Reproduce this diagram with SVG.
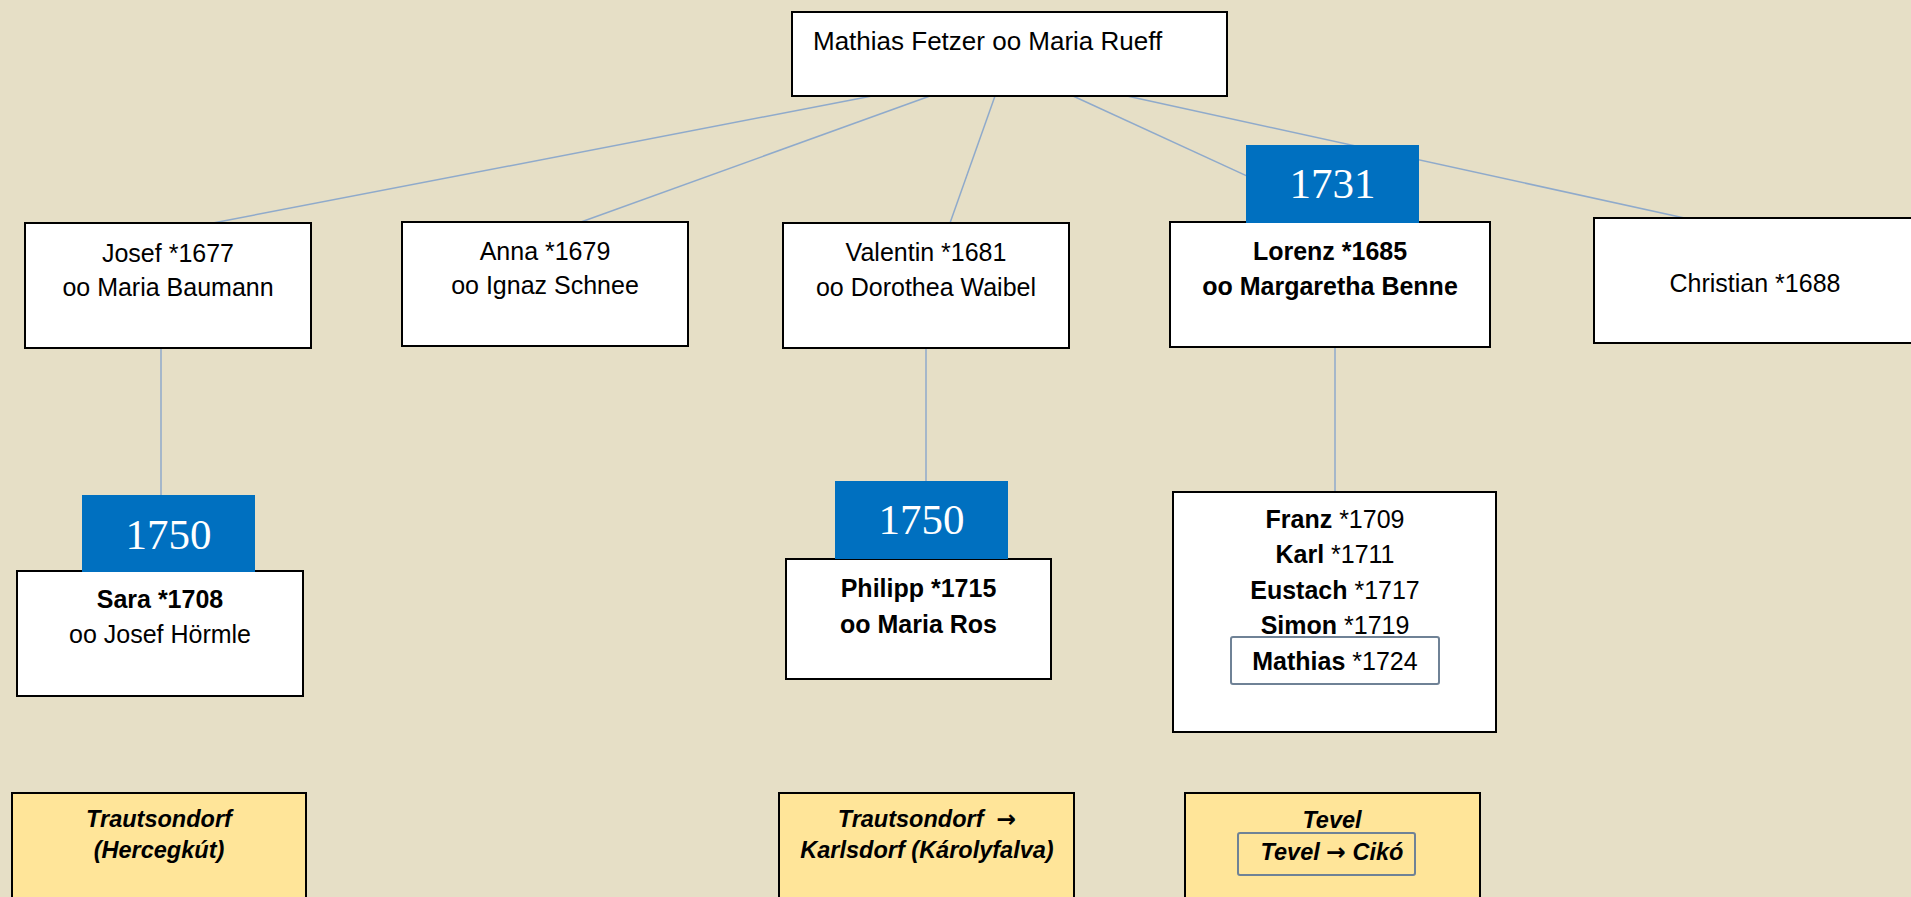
<svg xmlns="http://www.w3.org/2000/svg" width="1911" height="897" viewBox="0 0 1911 897">
<style>
.box{fill:#fff;stroke:#000;stroke-width:2}
.loc{fill:#FFE599;stroke:#000;stroke-width:2}
.yr{fill:#0070C0}
.yrt{font-family:"Liberation Serif",serif;font-size:43px;fill:#fff;text-anchor:middle}
.t{font-family:"Liberation Sans",Arial,sans-serif;font-size:25px;fill:#000;text-anchor:middle}
.b{font-weight:bold}
.it{font-family:"Liberation Sans",Arial,sans-serif;font-size:23.5px;font-weight:bold;font-style:italic;fill:#000;text-anchor:middle}
.arr{font-family:"DejaVu Sans",sans-serif;font-style:normal;font-weight:bold}
.inner{fill:none;stroke:#6F8296;stroke-width:2}
.con{stroke:#8FAACB;stroke-width:1.5;fill:none}
</style>
<rect width="1911" height="897" fill="#E6DFC6"/>
<g id="connectors">
<line class="con" x1="872" y1="96" x2="213" y2="223"/>
<line class="con" x1="930" y1="96" x2="581" y2="222"/>
<line class="con" x1="995" y1="96" x2="950" y2="223"/>
<line class="con" x1="1073" y1="96" x2="1347" y2="222"/>
<line class="con" x1="1127" y1="96" x2="1689" y2="219"/>
<line class="con" x1="161" y1="348" x2="161" y2="495"/>
<line class="con" x1="926" y1="349" x2="926" y2="481"/>
<line class="con" x1="1335" y1="347" x2="1335" y2="492"/>
</g>
<g id="root">
<rect class="box" x="792" y="12" width="435" height="84"/>
<text class="t" x="813" y="50" style="text-anchor:start;font-size:26px">Mathias Fetzer oo Maria Rueff</text>
</g>
<g id="josef">
<rect class="box" x="25" y="223" width="286" height="125"/>
<text class="t" x="168" y="262">Josef *1677</text>
<text class="t" x="168" y="296">oo Maria Baumann</text>
</g>
<g id="anna">
<rect class="box" x="402" y="222" width="286" height="124"/>
<text class="t" x="545" y="260">Anna *1679</text>
<text class="t" x="545" y="294">oo Ignaz Schnee</text>
</g>
<g id="valentin">
<rect class="box" x="783" y="223" width="286" height="125"/>
<text class="t" x="926" y="261">Valentin *1681</text>
<text class="t" x="926" y="296">oo Dorothea Waibel</text>
</g>
<g id="lorenz">
<rect class="box" x="1170" y="222" width="320" height="125"/>
<text class="t b" x="1330" y="260">Lorenz *1685</text>
<text class="t b" x="1330" y="295">oo Margaretha Benne</text>
</g>
<g id="year1731">
<rect class="yr" x="1246" y="145" width="173" height="78"/>
<text class="yrt" x="1332.5" y="198">1731</text>
</g>
<g id="christian">
<rect class="box" x="1594" y="218" width="322" height="125"/>
<text class="t" x="1755" y="292">Christian *1688</text>
</g>
<g id="sara">
<rect class="box" x="17" y="571" width="286" height="125"/>
<text class="t" x="160" y="608"><tspan class="b">Sara *1708</tspan></text>
<text class="t" x="160" y="643">oo Josef Hörmle</text>
</g>
<g id="year1750a">
<rect class="yr" x="82" y="495" width="173" height="77"/>
<text class="yrt" x="168.5" y="549">1750</text>
</g>
<g id="philipp">
<rect class="box" x="786" y="559" width="265" height="120"/>
<text class="t b" x="918.5" y="597">Philipp *1715</text>
<text class="t b" x="918.5" y="633">oo Maria Ros</text>
</g>
<g id="year1750b">
<rect class="yr" x="835" y="481" width="173" height="78"/>
<text class="yrt" x="921.5" y="534">1750</text>
</g>
<g id="lorenzKids">
<rect class="box" x="1173" y="492" width="323" height="240"/>
<text class="t" x="1335" y="528"><tspan class="b">Franz</tspan> *1709</text>
<text class="t" x="1335" y="563"><tspan class="b">Karl</tspan> *1711</text>
<text class="t" x="1335" y="599"><tspan class="b">Eustach</tspan> *1717</text>
<text class="t" x="1335" y="634"><tspan class="b">Simon</tspan> *1719</text>
<rect class="inner" x="1231" y="637" width="208" height="47" rx="2"/>
<text class="t" x="1335" y="670"><tspan class="b">Mathias</tspan> *1724</text>
</g>
<g id="locTrautsondorf">
<rect class="loc" x="12" y="793" width="294" height="120"/>
<text class="it" x="159" y="827">Trautsondorf</text>
<text class="it" x="159" y="858">(Hercegkút)</text>
</g>
<g id="locKarlsdorf">
<rect class="loc" x="779" y="793" width="295" height="120"/>
<text class="it" x="927" y="827">Trautsondorf&#160; <tspan class="arr">→</tspan></text>
<text class="it" x="927" y="858">Karlsdorf (Károlyfalva)</text>
</g>
<g id="locTevel">
<rect class="loc" x="1185" y="793" width="295" height="120"/>
<text class="it" x="1332" y="828">Tevel</text>
<rect class="inner" x="1238" y="833" width="177" height="42" rx="2"/>
<text class="it" x="1332" y="860">Tevel <tspan class="arr">→</tspan> Cikó</text>
</g>
</svg>
